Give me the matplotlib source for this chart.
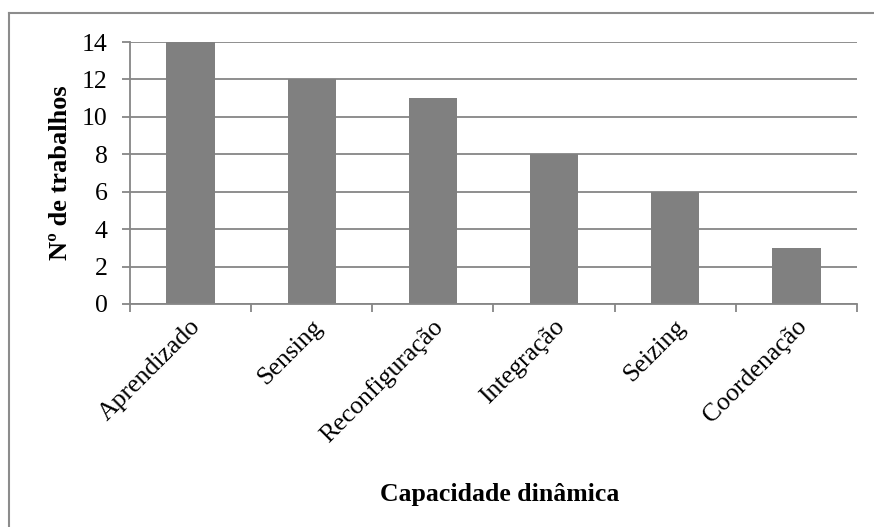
import matplotlib
matplotlib.use("Agg")
import matplotlib.pyplot as plt
from matplotlib.lines import Line2D

categorias = ["Aprendizado", "Sensing", "Reconfiguração", "Integração", "Seizing", "Coordenação"]
trabalhos = [14, 12, 11, 8, 6, 3]
yticks = [0, 2, 4, 6, 8, 10, 12, 14]

plt.rcParams["font.family"] = ["Liberation Serif", "DejaVu Serif"]

fig = plt.figure(figsize=(8.74, 5.27), dpi=100)
ax = fig.add_axes([130 / 874, 1 - 304 / 527, 727 / 874, 262 / 527])

grid_c = "#868686"
x = list(range(len(categorias)))
ax.bar(x, trabalhos, width=0.4, color="#808080", zorder=3)

ax.set_xlim(-0.5, len(categorias) - 0.5)
ax.set_ylim(0, 14)
ax.set_yticks(yticks)
ax.set_yticklabels([str(v) for v in yticks], fontsize=18.5)
ax.yaxis.grid(True, color=grid_c, linewidth=1.3, zorder=0)

for s in ["top", "right"]:
    ax.spines[s].set_visible(False)
for s in ["left", "bottom"]:
    ax.spines[s].set_color(grid_c)
    ax.spines[s].set_linewidth(1.3)
    ax.spines[s].set_zorder(4)

ax.tick_params(axis="y", length=6, width=1.3, color=grid_c, pad=10)
ax.set_xticks([i - 0.5 for i in range(len(categorias) + 1)], minor=False)
ax.set_xticklabels([])
ax.tick_params(axis="x", length=6, width=1.3, color=grid_c)

for i, c in enumerate(categorias):
    ax.annotate(c, xy=(i, 0), xycoords=("data", "data"),
                xytext=(5, -14), textcoords="offset points",
                rotation=45, rotation_mode="anchor", ha="right", va="center",
                fontsize=18.5)

ax.set_ylabel("Nº de trabalhos", fontsize=19, fontweight="bold")
ax.yaxis.set_label_coords(72 / 874, 1 - 173 / 527, transform=fig.transFigure)
fig.text(500 / 874, 1 - 495 / 527, "Capacidade dinâmica", fontsize=18.5,
         fontweight="bold", ha="center", va="center")

# outer chart frame (top and left edges)
fig.add_artist(Line2D([9 / 874, 1.0], [1 - 13 / 527, 1 - 13 / 527],
                      transform=fig.transFigure, color="#8c8c8c", linewidth=1.5))
fig.add_artist(Line2D([9 / 874, 9 / 874], [0.0, 1 - 13 / 527],
                      transform=fig.transFigure, color="#8c8c8c", linewidth=1.5))

fig.savefig("out.png", dpi=100, facecolor="white")
